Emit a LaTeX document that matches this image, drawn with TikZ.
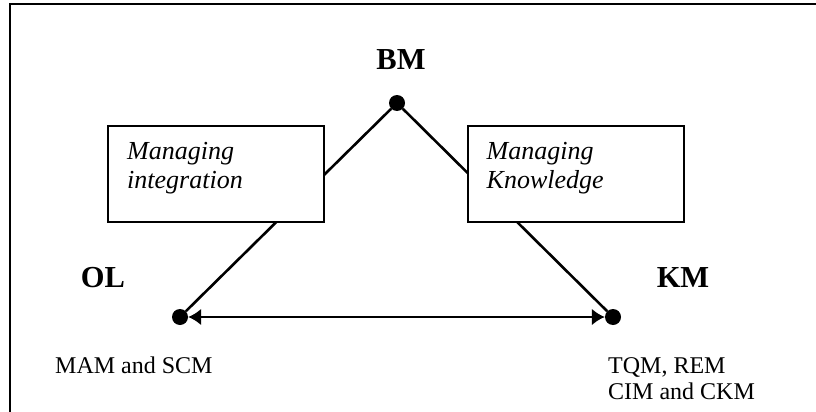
\documentclass[tikz,border=0pt]{standalone}
\usepackage{fontspec}
\setmainfont{Liberation Serif}
\usetikzlibrary{arrows.meta,positioning}

\begin{document}
\begin{tikzpicture}[x=1pt,y=-1pt,
        dot/.style={circle,fill,inner sep=0pt,minimum size=16pt},
        box/.style={draw,line width=2pt,fill=white,minimum width=216pt,minimum height=96pt,inner sep=0pt},
        head/.style={font=\fontsize{30.5}{34}\selectfont\bfseries,anchor=base,inner sep=0pt},
        boxtext/.style={font=\fontsize{26}{29}\selectfont\itshape,align=left,anchor=base west,inner sep=0pt},
        note/.style={font=\fontsize{24}{26}\selectfont,align=left,anchor=base west,inner sep=0pt},
        link/.style={line width=2.6pt}]
        \useasboundingbox (0,0) rectangle (816,412);
        \draw[line width=2pt] (10,412) |- (816,4);

        \node[dot] (BM) at (397,103) {};
        \node[dot] (OL) at (180,317) {};
        \node[dot] (KM) at (613,317) {};

        \draw[link] (BM) -- (OL);
        \draw[link] (BM) -- (KM);
        \draw[link,<->,>={Latex[length=13pt,width=17pt]}] (OL) -- (KM);

        \node[box] (MI) at (216,173.5) {};
        \node[box] (MK) at (575.5,173.5) {};
        \node[boxtext] (MItext) at ([xshift=20pt,yshift=-64pt]MI.north west) {Managing\\integration};
        \node[boxtext] (MKtext) at ([xshift=20pt,yshift=-64pt]MK.north west) {Managing\\Knowledge};

        \node[head] (BMtext) at (401,70) {BM};
        \node[head] (OLtext) at (103,287) {OL};
        \node[head] (KMtext) at (683,287) {KM};

        \node[note] (OLnote) at (55,373) {MAM and SCM};
        \node[note] (KMnote) at (608,399) {TQM, REM\\CIM and CKM};
\end{tikzpicture}
\end{document}
